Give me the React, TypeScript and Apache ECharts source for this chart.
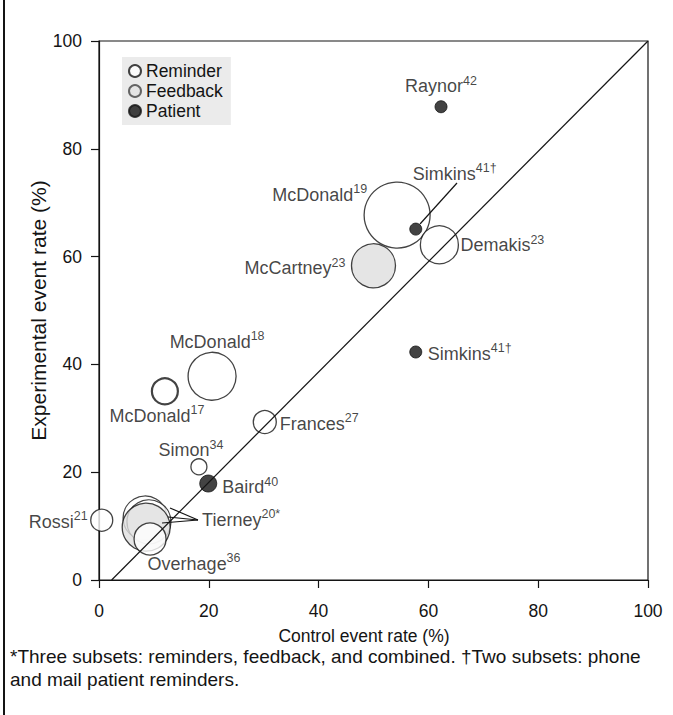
import React, { useEffect, useRef } from "react";
import * as echarts from "echarts";

// ---- data ----
const studies = [
  "Tierney", "Tierney", "Tierney", "Overhage", "Rossi", "Simon", "Baird", "Frances",
  "McDonald", "McDonald", "McCartney", "McDonald", "Simkins", "Demakis", "Simkins", "Raynor",
];
const refMarks = [
  "20*", "", "", "36", "21", "34", "40", "27",
  "17", "18", "23", "19", "41†", "23", "41†", "42",
];
const controlRate = [8.4, 9.1, 8.6, 9.3, 0.5, 18.2, 19.9, 30.2, 12.0, 20.6, 50.0, 54.3, 57.7, 62.0, 57.7, 62.3];
const experimentalRate = [11.5, 10.8, 9.8, 7.6, 11.1, 21.0, 17.9, 29.3, 35.0, 37.8, 58.3, 67.7, 65.1, 62.2, 42.3, 87.8];
const bubbleRadius = [22, 22, 24, 16, 11, 8, 8.5, 11.5, 13, 24, 22, 33, 6, 19, 6, 6];
const studyType = [
  "Reminder", "Reminder", "Feedback", "Reminder", "Reminder", "Reminder", "Patient", "Reminder",
  "Reminder", "Reminder", "Feedback", "Reminder", "Patient", "Reminder", "Patient", "Patient",
];
const groups = ["Reminder", "Feedback", "Patient"];
const axisMin = 0;
const axisMax = 100;
const axisStep = 20;
const identityLine = [[2.3, 0], [100, 100]];
const leaderLines = [
  [[18.03, 11.13], [12.93, 13.36]],
  [[18.03, 11.13], [12.57, 11.69]],
  [[18.03, 11.13], [11.48, 10.58]],
  [[58.47, 66.05], [65.21, 73.65]],
];
const footnote = [
  "*Three subsets: reminders, feedback, and combined. \u2020Two subsets: phone",
  "and mail patient reminders.",
];

// ---- layout / style (not data) ----
const labelLayout: Record<number, [string, number, number]> = {
  0: ["left", 57, 0],
  3: ["center", 44, 23],
  4: ["right", -14, 0],
  5: ["center", -8, -18],
  6: ["left", 14, 2],
  7: ["left", 15, 0],
  8: ["center", -8, 23],
  9: ["center", 5, -36],
  10: ["right", -28, 1],
  11: ["right", -30, -22],
  12: ["left", -3, -57],
  13: ["left", 21, -1],
  14: ["left", 12, 0],
  15: ["center", 0, -22],
};
const thickOutline: Record<number, number> = { 8: 2.2 };
const FONT = "'Liberation Sans', Arial, Helvetica, sans-serif";
const INK = "#141414";
const groupStyle: Record<string, any> = {
  Reminder: { color: "#ffffff", borderColor: INK, borderWidth: 1.3 },
  Feedback: { color: "#dedede", borderColor: INK, borderWidth: 1.3 },
  Patient: { color: INK, borderColor: INK, borderWidth: 1 },
};

export default function App() {
  const ref = useRef<HTMLDivElement>(null);
  useEffect(() => {
    document.body.style.margin = "0";
    const chart = echarts.init(ref.current!, null, { renderer: "svg" });

    // runs of consecutive same-type points keep the drawing order
    const runs: { type: string; idx: number[] }[] = [];
    studyType.forEach((t, i) => {
      const last = runs[runs.length - 1];
      if (last && last.type === t) last.idx.push(i);
      else runs.push({ type: t, idx: [i] });
    });

    const scatterSeries = runs.map((run, r) => ({
      type: "scatter",
      name: run.type,
      z: 2 + r,
      symbol: "circle",
      itemStyle: groupStyle[run.type],
      emphasis: { disabled: true },
      data: run.idx.map((i) => {
        const lay = labelLayout[i];
        const item: any = {
          value: [controlRate[i], experimentalRate[i]],
          symbolSize: bubbleRadius[i] * 2,
          name: studies[i],
        };
        if (thickOutline[i]) item.itemStyle = { borderWidth: thickOutline[i] };
        if (lay) {
          item.label = {
            show: true,
            position: "inside",
            align: lay[0],
            verticalAlign: "middle",
            offset: [lay[1], lay[2]],
            formatter: `{n|${studies[i]}}{s|${refMarks[i]}}`,
            rich: {
              n: { fontFamily: FONT, fontSize: 18, color: INK, lineHeight: 21, verticalAlign: "bottom" },
              s: { fontFamily: FONT, fontSize: 12.5, color: INK, lineHeight: 21, verticalAlign: "top" },
            },
          };
        }
        return item;
      }),
    }));

    const axisCommon = {
      type: "value",
      min: axisMin,
      max: axisMax,
      interval: axisStep,
      splitLine: { show: false },
      axisLine: { show: true, lineStyle: { color: INK, width: 1.2 } },
      axisTick: { show: true, inside: false, length: 8, lineStyle: { color: INK, width: 1.2 } },
      nameLocation: "middle",
      nameMoveOverlap: false,
    };

    chart.setOption({
      animation: false,
      grid: {
        left: 99, right: 25, top: 41, bottom: 135,
        show: true, borderColor: INK, borderWidth: 1.2, backgroundColor: "transparent",
      },
      legend: {
        data: [
          { name: "Reminder" },
          { name: "Feedback", itemStyle: { borderColor: "#444", color: "#e4e4e4" } },
          { name: "Patient" },
        ],
        orient: "vertical",
        left: 122,
        top: 57,
        icon: "circle",
        itemWidth: 12,
        itemHeight: 12,
        itemGap: 2,
        backgroundColor: "#ebebeb",
        padding: [5, 8, 5, 6],
        selectedMode: false,
        textStyle: { fontFamily: FONT, fontSize: 17.5, color: INK, lineHeight: 18 },
      },
      xAxis: {
        ...axisCommon,
        name: "Control event rate (%)",
        nameGap: 47,
        nameTextStyle: { fontFamily: FONT, fontSize: 17.5, color: INK, padding: [0, 19, 0, 0] },
        axisLabel: { fontFamily: FONT, fontSize: 17.5, color: INK, margin: 22 },
      },
      yAxis: {
        ...axisCommon,
        name: "Experimental event rate (%)",
        nameGap: 50,
        nameTextStyle: { fontFamily: FONT, fontSize: 21, color: INK },
        axisLabel: { fontFamily: FONT, fontSize: 17.5, color: INK, margin: 17 },
      },
      graphic: [
        { type: "rect", left: 3, top: 0, shape: { width: 2, height: 715 }, style: { fill: INK } },
        {
          type: "text", left: 10, top: 645,
          style: { text: footnote.join("\n"), font: `19px ${FONT}`, fill: INK, lineHeight: 23 },
        },
      ],
      series: [
        ...scatterSeries,
        {
          type: "lines",
          coordinateSystem: "cartesian2d",
          z: 40,
          silent: true,
          lineStyle: { color: INK, width: 1.2, opacity: 1 },
          data: [{ coords: identityLine }, ...leaderLines.map((c) => ({ coords: c }))],
        },
      ],
    });
    return () => chart.dispose();
  }, []);
  return <div ref={ref} style={{ width: 673, height: 715 }} />;
}
